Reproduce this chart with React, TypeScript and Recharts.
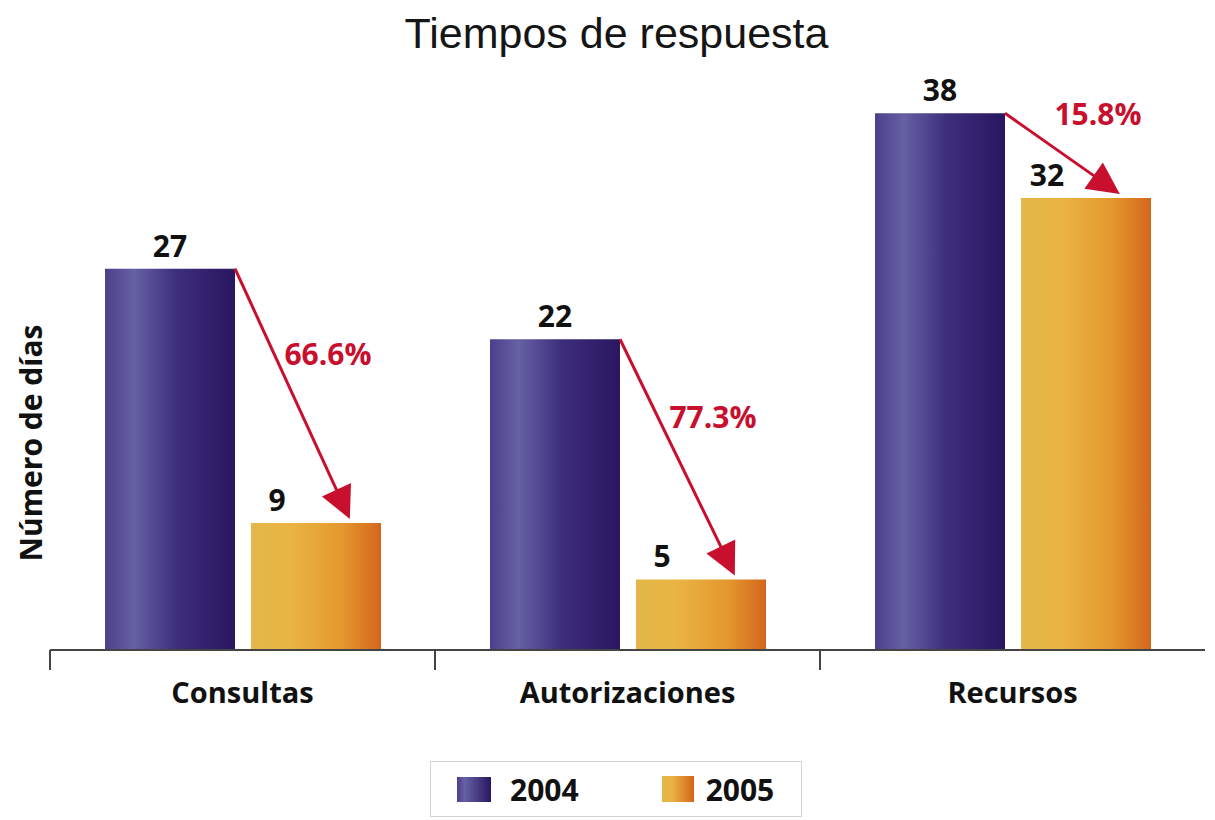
import { BarChart, Bar, XAxis, YAxis, LabelList } from 'recharts';

const categories = ['Consultas', 'Autorizaciones', 'Recursos'];
const values2004 = [27, 22, 38];
const values2005 = [9, 5, 32];
const reductions = ['66.6%', '77.3%', '15.8%'];
const seriesNames = ['2004', '2005'];

const data = categories.map((name, i) => ({
  name,
  v2004: values2004[i],
  v2005: values2005[i],
}));

const FONT = '"Open Sans", "DejaVu Sans", sans-serif';
const RED = '#c8102e';
const BAR_GAP = 16;

const ValueLabel = (props: any) => {
  const x = Number(props.x), y = Number(props.y), w = Number(props.width);
  return (
    <text x={x + w / 2} y={y - 12} textAnchor="middle" fontFamily={FONT} fontWeight={700} fontSize={30} fill="#111">
      {props.value}
    </text>
  );
};

// 2005 value sits left of the arrow head
const ValueLabelLeft = (props: any) => {
  const x = Number(props.x), y = Number(props.y), w = Number(props.width);
  return (
    <text x={x + w * 0.2} y={y - 12} textAnchor="middle" fontFamily={FONT} fontWeight={700} fontSize={30} fill="#111">
      {props.value}
    </text>
  );
};

// arrow from the top-right corner of the 2004 bar down to the 2005 bar
const DropArrow = (props: any) => {
  const x = Number(props.x), y = Number(props.y), w = Number(props.width), h = Number(props.height);
  const i = props.index;
  const base = y + h;
  const perUnit = h / values2005[i];
  const x0 = x - BAR_GAP;
  const y0 = base - values2004[i] * perUnit;
  const x1 = x + w * 0.76;
  const y1 = y - 4;
  const ang = Math.atan2(y1 - y0, x1 - x0);
  const c = Math.cos(ang), s = Math.sin(ang);
  const headLen = 32, headW = 16;
  const bx = x1 - headLen * c, by = y1 - headLen * s;
  const pts = `${x1},${y1} ${bx - headW * s},${by + headW * c} ${bx + headW * s},${by - headW * c}`;
  const mx = (x0 + x1) / 2, my = (y0 + y1) / 2;
  return (
    <g>
      <line x1={x0} y1={y0} x2={bx + 4 * c} y2={by + 4 * s} stroke={RED} strokeWidth={3} />
      <polygon points={pts} fill={RED} />
      <text x={mx - 8} y={my - 29} fontFamily={FONT} fontWeight={700} fontSize={30} fill={RED}>
        {reductions[i]}
      </text>
    </g>
  );
};

const CategoryTick = (props: any) => {
  const { x, y, payload, width, visibleTicksCount } = props;
  const band = width && visibleTicksCount ? width / visibleTicksCount : 0;
  const left = payload.coordinate - band / 2;
  return (
    <g>
      <line x1={left} y1={y} x2={left} y2={y + 20} stroke="#444" strokeWidth={2} />
      <text x={x} y={y + 53} textAnchor="middle" fontFamily={FONT} fontWeight={700} fontSize={29} fill="#111">
        {payload.value}
      </text>
    </g>
  );
};

export default function App() {
  return (
    <div style={{ position: 'absolute', left: 0, top: 0, width: 1215, height: 820, background: '#fff', overflow: 'hidden' }}>
      <div
        style={{
          position: 'absolute', left: 0, top: 12, width: 1233, textAlign: 'center', lineHeight: '43px',
          fontFamily: '"Liberation Sans", Arial, sans-serif', fontSize: 43, color: '#151515',
        }}
      >
        Tiempos de respuesta
      </div>
      <div
        style={{
          position: 'absolute', left: 30, top: 443, transform: 'translate(-50%, -50%) rotate(-90deg)',
          whiteSpace: 'nowrap', fontFamily: FONT, fontWeight: 700, fontSize: 30, color: '#111',
        }}
      >
        Número de días
      </div>
      <BarChart
        width={1215}
        height={820}
        data={data}
        margin={{ top: 85, right: 10, left: 50, bottom: 110 }}
        barGap={BAR_GAP}
        barSize={130}
      >
        <defs>
          <linearGradient id="g2004" x1="0" y1="0" x2="1" y2="0">
            <stop offset="0%" stopColor="#4c3f8c" />
            <stop offset="22%" stopColor="#6660a4" />
            <stop offset="55%" stopColor="#3d2e7c" />
            <stop offset="100%" stopColor="#2a1660" />
          </linearGradient>
          <linearGradient id="g2005" x1="0" y1="0" x2="1" y2="0">
            <stop offset="0%" stopColor="#e2b848" />
            <stop offset="30%" stopColor="#eab444" />
            <stop offset="70%" stopColor="#e4982e" />
            <stop offset="100%" stopColor="#d4661c" />
          </linearGradient>
        </defs>
        <XAxis
          dataKey="name"
          height={60}
          axisLine={{ stroke: '#444', strokeWidth: 2 }}
          tickLine={false}
          tickSize={0}
          tickMargin={0}
          interval={0}
          tick={<CategoryTick />}
        />
        <YAxis hide domain={[0, 40]} />
        <Bar dataKey="v2004" name={seriesNames[0]} fill="url(#g2004)" isAnimationActive={false}>
          <LabelList dataKey="v2004" content={<ValueLabel />} />
        </Bar>
        <Bar dataKey="v2005" name={seriesNames[1]} fill="url(#g2005)" isAnimationActive={false}>
          <LabelList dataKey="v2005" content={<ValueLabelLeft />} />
          <LabelList dataKey="v2005" content={<DropArrow />} />
        </Bar>
      </BarChart>
      <div
        style={{
          position: 'absolute', left: 430, top: 761, width: 372, height: 56, border: '1px solid #d4d4d4',
          boxSizing: 'border-box', display: 'flex', alignItems: 'center', fontFamily: FONT, fontWeight: 700,
          fontSize: 30, color: '#111',
        }}
      >
        <div style={{ width: 34, height: 25, marginLeft: 26, background: 'linear-gradient(to right, #4c3f8c, #6660a4 22%, #2a1660)' }} />
        <span style={{ marginLeft: 19 }}>{seriesNames[0]}</span>
        <div style={{ width: 32, height: 26, marginLeft: 83, background: 'linear-gradient(to right, #e2b848, #eab444 30%, #d4661c)' }} />
        <span style={{ marginLeft: 12 }}>{seriesNames[1]}</span>
      </div>
    </div>
  );
}
